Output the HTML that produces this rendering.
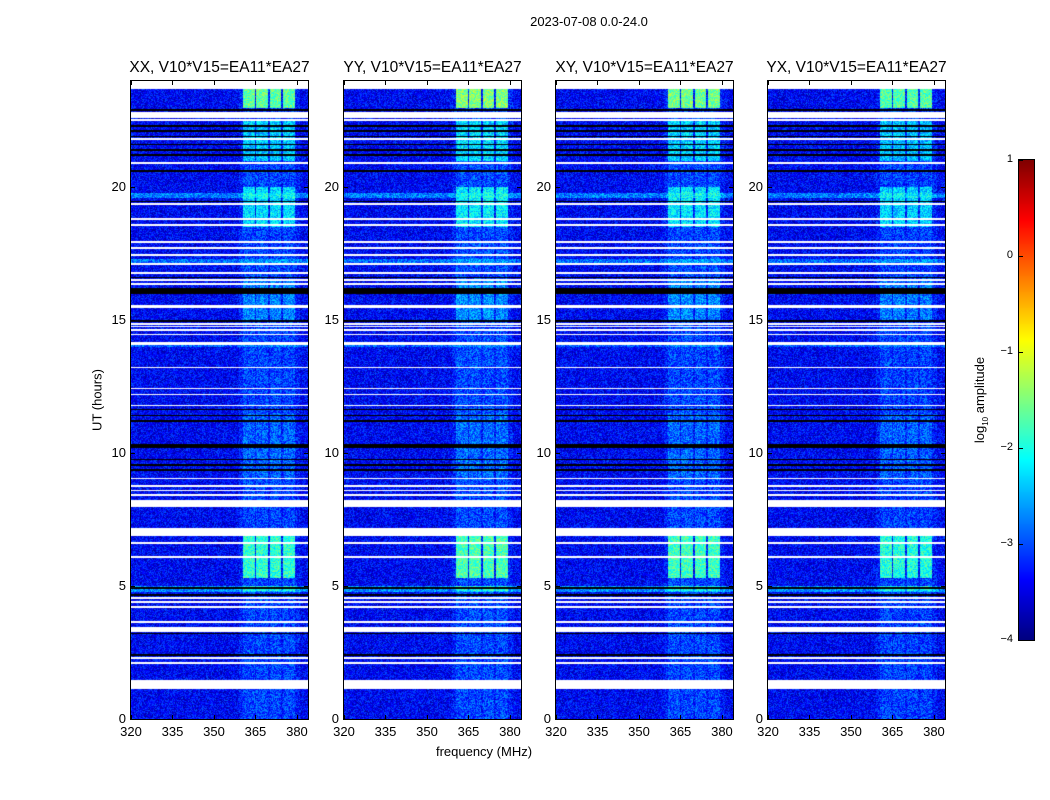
<!DOCTYPE html>
<html><head><meta charset="utf-8">
<style>
body{margin:0;background:#fff;width:1050px;height:800px;overflow:hidden;font-family:"Liberation Sans",sans-serif;}
#wrap{position:relative;width:1050px;height:800px;}
.t{position:absolute;font-size:13px;color:#000;white-space:nowrap;}
.pt{position:absolute;font-size:15px;white-space:nowrap;transform:translateX(-50%);}
canvas{position:absolute;}
.frame{position:absolute;border:1px solid #000;box-sizing:border-box;}
</style></head><body>
<div id="wrap">
<div class="t" style="left:589px;top:14px;transform:translateX(-50%)">2023-07-08 0.0-24.0</div>
<div class="t" style="left:484px;top:744px;transform:translateX(-50%)">frequency (MHz)</div>
<div class="t" style="left:97px;top:400px;transform:translate(-50%,-50%) rotate(-90deg)">UT (hours)</div>
<div class="t" style="left:981px;top:400px;transform:translate(-50%,-50%) rotate(-90deg)">log<sub style="font-size:8px">10</sub> amplitude</div>
</div>
<script>
// ---- data ----
const panelTitles=["XX, V10*V15=EA11*EA27","YY, V10*V15=EA11*EA27","XY, V10*V15=EA11*EA27","YX, V10*V15=EA11*EA27"];
const xTicks=[320,335,350,365,380];
const yTicks=[0,5,10,15,20];
const cbTicks=[1,0,-1,-2,-3,-4];
const bandStart=[360.4,365.3,370.1,374.9];
const bandEnd=[364.7,369.6,374.4,379.3];
const segStart=[23.0,21.0,18.5,15.0,5.3,4.8,0,9.0];
const segEnd=[23.7,22.5,20.0,16.5,7.0,5.0,24,11.5];
const segBoost=[1.75,1.0,1.1,0.65,1.5,1.1,0.35,0.5];
const panelGain=[1.0,1.1,1.05,0.95];
const rowStart=[19.6,17.1,14.0,4.78];
const rowEnd=[19.8,17.3,14.1,5.0];
const rowBoost=[0.8,0.7,0.6,0.9];
const whiteStart=[23.7,22.6,22.5,21.78,20.88,19.33,18.78,18.55,17.92,17.69,17.4,17.09,16.75,16.49,16.34,15.46,14.84,14.73,14.61,14.43,14.07,13.19,12.4,12.18,11.76,9.02,8.73,8.57,8.39,7.99,6.9,6.58,6.06,4.52,4.37,4.18,3.62,3.26,2.25,2.08,1.13];
const whiteEnd=[24.0,22.85,22.56,21.84,20.94,19.4,18.84,18.61,17.98,17.75,17.5,17.15,16.81,16.55,16.4,15.57,14.9,14.79,14.67,14.49,14.18,13.25,12.46,12.24,11.82,9.08,8.8,8.63,8.45,8.22,7.17,6.64,6.12,4.58,4.43,4.24,3.68,3.45,2.33,2.14,1.46];
const blackStart=[22.88,21.18,21.38,21.58,21.88,22.08,22.28,20.58,19.44,16.58,15.98,14.95,11.18,11.38,11.62,10.2,9.33,9.53,9.73,4.9,4.63,3.18,2.38,1.37];
const blackEnd=[22.96,21.24,21.44,21.64,21.94,22.14,22.34,20.64,19.5,16.64,16.2,15.01,11.24,11.44,11.68,10.35,9.39,9.59,9.79,4.96,4.69,3.24,2.44,1.43];
// ---- layout ----
const panelX=[131,344,556,768], PW=177, PT=81, PB=719;
const fMin=320,fMax=384,hMin=0,hMax=24,vMin=-4,vMax=1;
const xs=(f,i)=>panelX[i]+(f-fMin)/(fMax-fMin)*PW;
const ys=h=>PB-(h-hMin)/(hMax-hMin)*(PB-PT);
function jet(t){t=Math.max(0,Math.min(1,t));
 const r=Math.max(0,Math.min(1,1.5-Math.abs(4*t-3))),g=Math.max(0,Math.min(1,1.5-Math.abs(4*t-2))),b=Math.max(0,Math.min(1,1.5-Math.abs(4*t-1)));
 return [r*255|0,g*255|0,b*255|0];}
function hash(a,b,c){let h=(a*374761393+b*668265263+c*2147483647)|0;h=(h^(h>>>13))*1274126177|0;return ((h^(h>>>16))>>>0)/4294967296;}
function inAny(h,s,e){for(let k=0;k<s.length;k++)if(h>=s[k]&&h<e[k])return true;return false;}
const wrap=document.getElementById('wrap');
panelTitles.forEach((title,i)=>{
 const cv=document.createElement('canvas');
 
 
 cv.width=PW;cv.height=PB-PT;cv.style.left=panelX[i]+'px';cv.style.top=PT+'px';
 const ctx=cv.getContext('2d');const img=ctx.createImageData(PW,PB-PT);
 for(let y=0;y<PB-PT;y++){
  const h=hMax-(y+0.5)/(PB-PT)*(hMax-hMin);
  const white=inAny(h,whiteStart,whiteEnd),black=inAny(h,blackStart,blackEnd);
  let rb=0;for(let k=0;k<rowStart.length;k++)if(h>=rowStart[k]&&h<rowEnd[k])rb=Math.max(rb,rowBoost[k]);
  let sb=0;for(let k=0;k<segStart.length;k++)if(h>=segStart[k]&&h<segEnd[k])sb=Math.max(sb,segBoost[k]);
  for(let x=0;x<PW;x++){
   const f=fMin+(x+0.5)/PW*(fMax-fMin);
   let col;
   if(white)col=[255,255,255];else if(black)col=[0,0,0];
   else{
    let v=-3.4+rb*0.8;
    let inb=false;for(let k=0;k<4;k++)if(f>=bandStart[k]&&f<bandEnd[k])inb=true;
    if(inb)v+=sb*panelGain[i]*(rb>0?0.6:1);else if(f>359&&f<381)v+=0.15;
    v+=(hash(x,y,i)-0.5)*0.9;
    col=jet((v-vMin)/(vMax-vMin));
   }
   const p=(y*PW+x)*4;img.data[p]=col[0];img.data[p+1]=col[1];img.data[p+2]=col[2];img.data[p+3]=255;
  }}
 ctx.putImageData(img,0,0);wrap.appendChild(cv);
 const fr=document.createElement('div');fr.className='frame';
 
 
 fr.style.cssText=`left:${panelX[i]-1}px;top:${PT-1}px;width:${PW+2}px;height:${PB-PT+2}px`;wrap.appendChild(fr);
 const tt=document.createElement('div');tt.className='pt';tt.textContent=title;
 
 
 tt.style.left=(panelX[i]+PW/2)+'px';tt.style.top='59px';tt.style.fontSize='15.5px';wrap.appendChild(tt);
 xTicks.forEach(v=>{const l=document.createElement('div');l.className='t';l.textContent=v;
  
  
  l.style.left=xs(v,i)+'px';l.style.top='724px';l.style.transform='translateX(-50%)';wrap.appendChild(l);
  [PT,PB-4].forEach(yy=>{const k=document.createElement('div');k.style.cssText=`position:absolute;left:${xs(v,i)}px;top:${yy}px;width:1px;height:4px;background:#000`;
   
   
   wrap.appendChild(k);});});
 yTicks.forEach(v=>{const l=document.createElement('div');l.className='t';l.textContent=v;
  
  
  l.style.left=(panelX[i]-5)+'px';l.style.top=(ys(v)-8)+'px';l.style.transform='translateX(-100%)';wrap.appendChild(l);
  [panelX[i],panelX[i]+PW-4].forEach(xx=>{const k=document.createElement('div');k.style.cssText=`position:absolute;left:${xx}px;top:${ys(v)}px;width:4px;height:1px;background:#000`;
   
   
   wrap.appendChild(k);});});
});
// colorbar
const cbX=1019,cbW=15,cbT=160,cbB=640;
const cb=document.createElement('canvas');cb.width=cbW;cb.height=cbB-cbT;


cb.style.left=cbX+'px';cb.style.top=cbT+'px';
const cctx=cb.getContext('2d');
for(let y=0;y<cbB-cbT;y++){const c=jet(1-(y+0.5)/(cbB-cbT));cctx.fillStyle=`rgb(${c})`;cctx.fillRect(0,y,cbW,1);}
wrap.appendChild(cb);
const cf=document.createElement('div');cf.className='frame';


cf.style.cssText=`left:${cbX-1}px;top:${cbT-1}px;width:${cbW+2}px;height:${cbB-cbT+2}px`;wrap.appendChild(cf);
cbTicks.forEach(v=>{const y=cbB-(v-vMin)/(vMax-vMin)*(cbB-cbT);
 const l=document.createElement('div');l.className='t';l.style.fontSize='11px';l.textContent=v<0?'\u2212'+(-v):v;
 
 
 l.style.left='1013px';l.style.top=(y-7)+'px';l.style.transform='translateX(-100%)';wrap.appendChild(l);
 const k=document.createElement('div');k.style.cssText=`position:absolute;left:${cbX}px;top:${y}px;width:4px;height:1px;background:#000`;
 
 
 wrap.appendChild(k);});
</script>
</body></html>
